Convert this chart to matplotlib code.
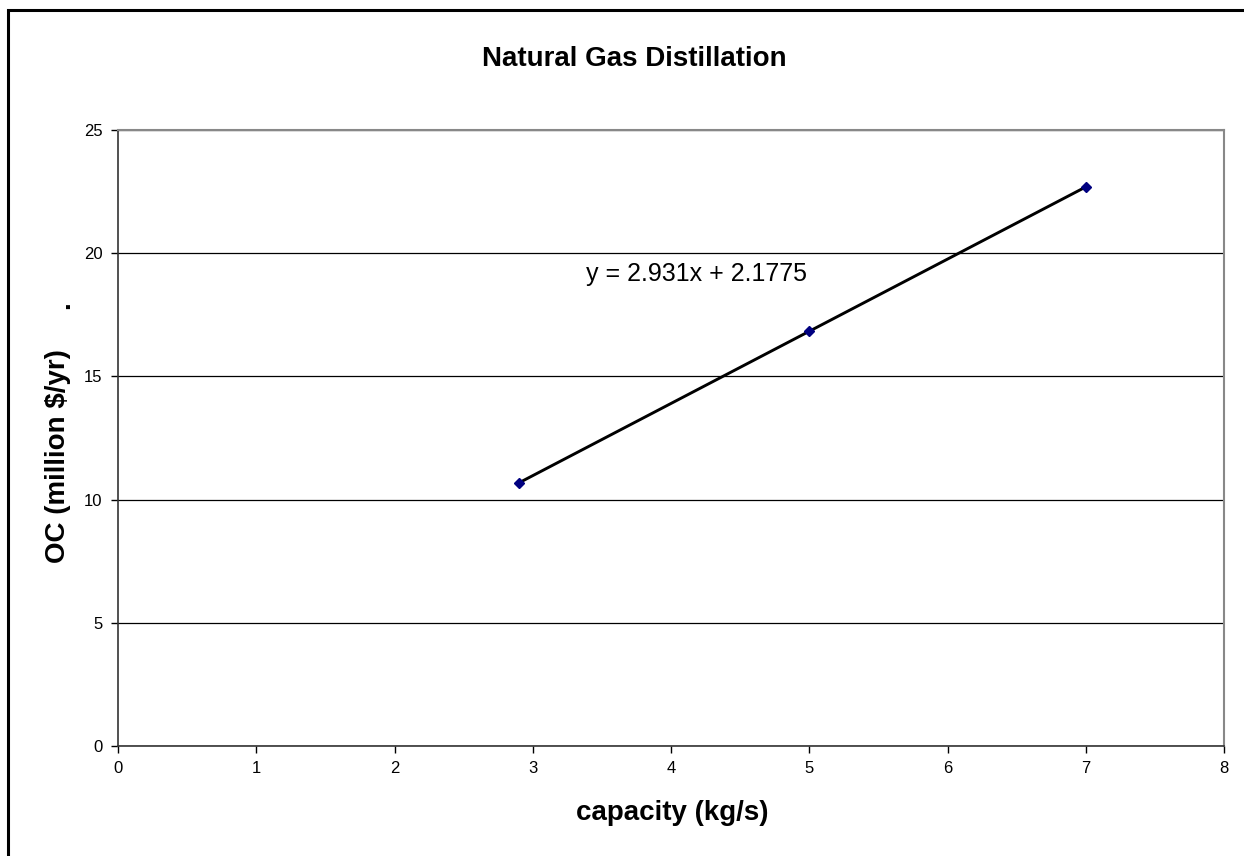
import matplotlib
matplotlib.use("Agg")
import matplotlib.pyplot as plt
import numpy as np
from matplotlib.patches import Rectangle

plt.rcParams['font.family'] = ['Liberation Sans', 'DejaVu Sans']

# data
capacity = [2.9, 5.0, 7.0]
oc = [10.68, 16.83, 22.69]
x_ticks = [0, 1, 2, 3, 4, 5, 6, 7, 8]
y_ticks = [0, 5, 10, 15, 20, 25]
equation = "y = 2.931x + 2.1775"

fig = plt.figure(figsize=(12.44, 8.56), dpi=100)
ax = fig.add_axes([118/1244, 110/856, 1106/1244, 616/856])

# outer chart border (right/bottom run off the image)
fig.patches.append(Rectangle((8/1244, -0.05), 1.2, (846+43)/856, transform=fig.transFigure,
                             fill=False, edgecolor='black', linewidth=2.2))

# linear trendline from the data
k, b = np.polyfit(capacity, oc, 1)
xs = np.array([min(capacity), max(capacity)])
ax.plot(xs, k*xs + b, color='black', linewidth=2.1, zorder=3)
ax.plot(capacity, oc, linestyle='none', marker='D', markersize=5.5,
        color='#000080', zorder=4)

ax.set_xlim(0, 8)
ax.set_ylim(0, 25)
ax.set_xticks(x_ticks)
ax.set_yticks(y_ticks)
ax.tick_params(labelsize=12, length=5, width=1, direction='out', pad=6)
ax.yaxis.grid(True, color='black', linewidth=0.9)
ax.set_axisbelow(True)

for s in ['top', 'right']:
    ax.spines[s].set_color('#888888')
    ax.spines[s].set_linewidth(1.5)
for s in ['left', 'bottom']:
    ax.spines[s].set_color('#333333')
    ax.spines[s].set_linewidth(1.2)

ax.text(696/1244, 1 - 274/856, equation, transform=fig.transFigure,
        ha='center', va='center', fontsize=18)

fig.text(634/1244, 1 - 59/856, "Natural Gas Distillation", ha='center', va='center',
         fontsize=20, fontweight='bold')
fig.text(672/1244, 1 - 813/856, "capacity (kg/s)", ha='center', va='center',
         fontsize=20, fontweight='bold')
fig.text(58/1244, 1 - 456/856, "OC (million $/yr)", ha='center', va='center',
         rotation=90, fontsize=20, fontweight='bold')
fig.text(62/1244, 1 - 305/856, ".", ha='center', va='center',
         rotation=90, fontsize=20, fontweight='bold')

fig.savefig("out.png", dpi=100)
